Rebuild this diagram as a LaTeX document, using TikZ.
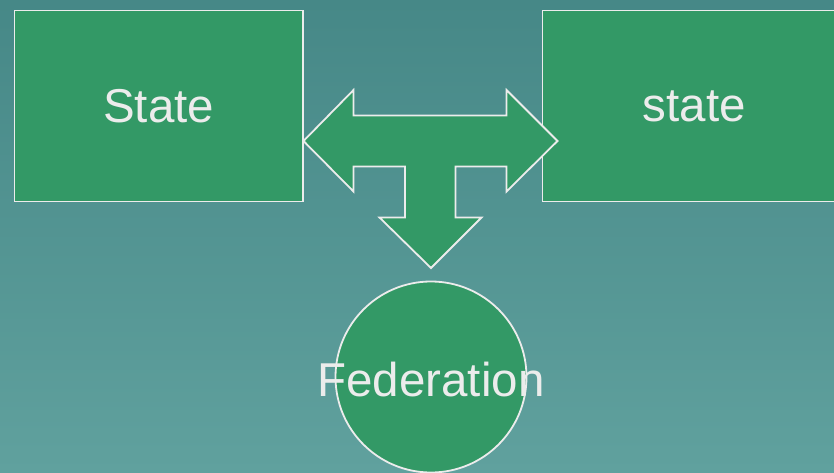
\documentclass[tikz,border=0pt]{standalone}
\usepackage{fontspec}
\setmainfont{Liberation Sans}
\usepackage{xcolor}
\usetikzlibrary{calc}

\definecolor{bgtop}{RGB}{70,136,135}
\definecolor{bgbot}{RGB}{96,161,158}
\definecolor{boxgreen}{RGB}{51,153,102}
\definecolor{edgegrey}{RGB}{236,236,236}

\begin{document}
\begin{tikzpicture}[
  x=1pt, y=-1pt,
  line join=miter,
  greenpart/.style={fill=boxgreen, draw=edgegrey, line width=1.8pt},
  statebox/.style={greenpart, rectangle, inner sep=0pt,
    minimum width=288.5pt, minimum height=191pt},
  bigtext/.style={text=edgegrey, font=\fontsize{47.5}{52}\selectfont}
]
  \useasboundingbox (0,0) rectangle (834,473);
  \clip (0,0) rectangle (834,473);
  \shade[top color=bgtop, bottom color=bgbot] (0,0) rectangle (834,473);

  % the two states
  \node[statebox, bigtext] (left) at (158.75,106) {State};
  \node[statebox, bigtext, minimum width=303.5pt] (right) at (694.25,106) {state};

  % the T-shaped block arrow between them
  \coordinate (tipl) at (303.5,141);
  \coordinate (tipr) at (557.5,141);
  \coordinate (tipd) at (431,268);
  \draw[greenpart] (tipl)
    -- (353.5,90) -- (353.5,115.5) -- (506.5,115.5) -- (506.5,90)
    -- (tipr)
    -- (506.5,191.5) -- (506.5,166.5) -- (455.5,166.5) -- (455.5,217.5)
    -- (481.5,217.5) -- (tipd) -- (379.5,217.5) -- (405,217.5)
    -- (405,166.5) -- (353.5,166.5) -- (353.5,191.5) -- cycle;

  % the federation
  \node[greenpart, circle, minimum size=191pt, inner sep=0pt] (fed) at (431,377) {};
  \node[bigtext, anchor=base] (fedtext) at ($(fed.center)+(0,19)$) {Federation};
\end{tikzpicture}
\end{document}
